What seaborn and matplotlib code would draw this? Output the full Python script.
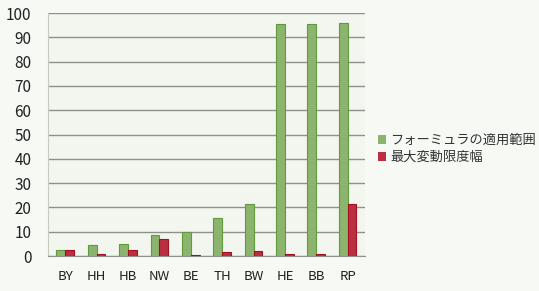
import matplotlib
matplotlib.use('Agg')
import matplotlib.pyplot as plt
import seaborn as sns
import pandas as pd

# data
categories = ['BY', 'HH', 'HB', 'NW', 'BE', 'TH', 'BW', 'HE', 'BB', 'RP']
formula_range = [2.5, 4.5, 5, 8.5, 10, 15.5, 21.5, 95.5, 95.5, 96]
max_variation = [2.5, 1, 2.5, 7, 0.5, 1.5, 2, 1, 1, 21.5]
series_names = ['フォーミュラの適用範囲', '最大変動限度幅']

df = pd.DataFrame({'cat': categories * 2,
                   'value': formula_range + max_variation,
                   'series': [series_names[0]] * len(categories) + [series_names[1]] * len(categories)})

sns.set_style('white')
plt.rcParams['font.family'] = ['Noto Sans CJK JP', 'DejaVu Sans']

fig = plt.figure(figsize=(5.39, 2.91), dpi=100)
fig.patch.set_facecolor('#f7f9f5')
ax = fig.add_axes([0.089, 0.12, 0.588, 0.835])
ax.set_facecolor('#f2f6ef')

sns.barplot(data=df, x='cat', y='value', hue='series', ax=ax,
            palette=['#8cc063', '#d3172f'], width=0.56, gap=0,
            edgecolor=None, linewidth=0, zorder=3)
# darker outline like the source
for bar in ax.patches:
    if bar.get_height() > 0:
        col = '#5e9b3c' if bar.get_facecolor()[0] < 0.7 else '#a5101f'
        bar.set_edgecolor(col)
        bar.set_linewidth(0.8)

ax.set_ylim(0, 100)
ax.set_yticks(range(0, 101, 10))
ax.yaxis.grid(True, color='#8e908c', linewidth=1.0, zorder=0)
ax.set_xlim(-0.55, 9.55)
for s in ['top', 'right']:
    ax.spines[s].set_visible(False)
ax.spines['left'].set_color('#c5c9c2')
ax.spines['bottom'].set_color('#8e908c')
ax.tick_params(axis='y', length=0, labelsize=11, pad=12, colors='#222222')
ax.tick_params(axis='x', length=0, labelsize=9.5, pad=10, colors='#222222')
ax.set_xlabel('')
ax.set_ylabel('')

handles, labels = ax.get_legend_handles_labels()
ax.legend(handles, labels, loc='center left', bbox_to_anchor=(1.005, 0.44),
          frameon=False, fontsize=9.5, handlelength=0.6, handleheight=0.6,
          handletextpad=0.3, labelspacing=0.3, labelcolor='#333333')

fig.savefig('out.png', dpi=100, facecolor=fig.get_facecolor())
